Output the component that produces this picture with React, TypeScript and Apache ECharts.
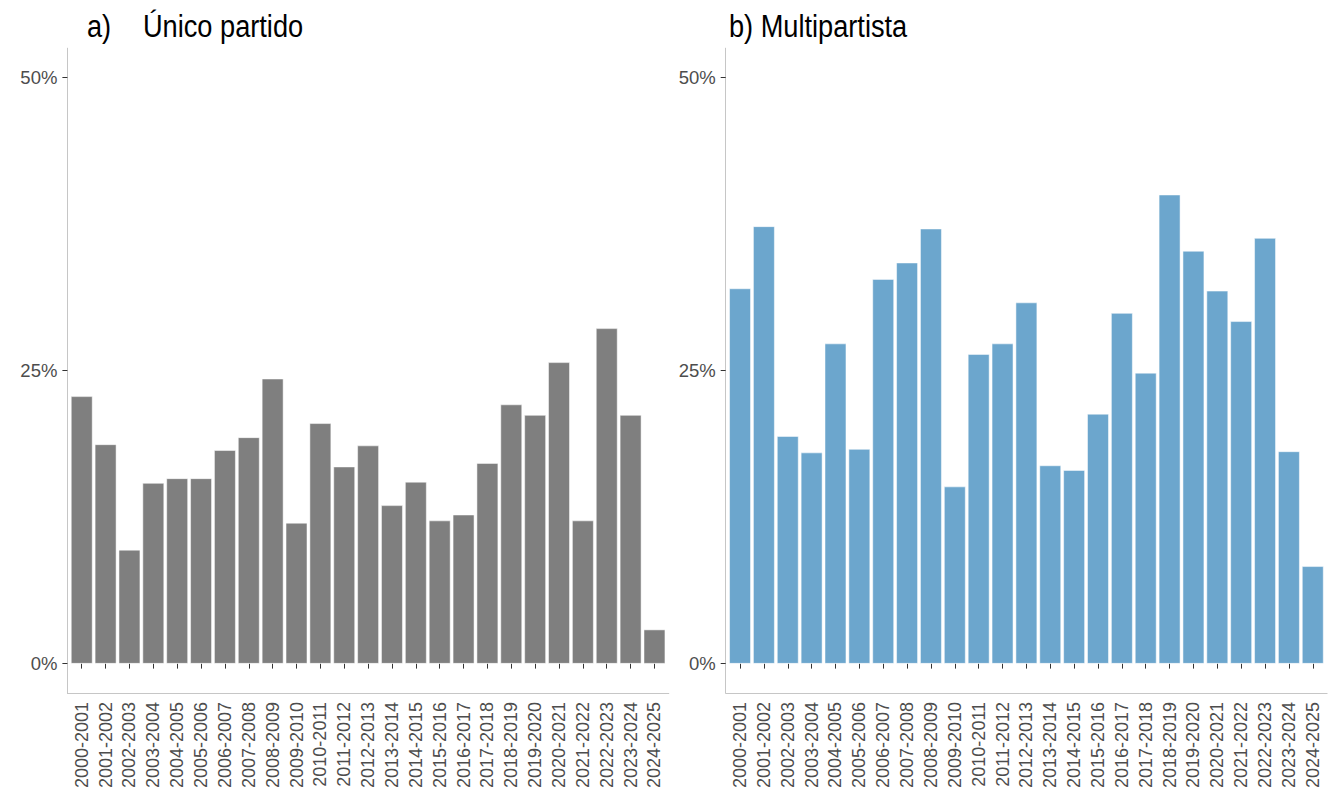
import React, { useEffect, useRef } from "react";
import * as echarts from "echarts";

const categories = [
  "2000-2001", "2001-2002", "2002-2003", "2003-2004", "2004-2005",
  "2005-2006", "2006-2007", "2007-2008", "2008-2009", "2009-2010",
  "2010-2011", "2011-2012", "2012-2013", "2013-2014", "2014-2015",
  "2015-2016", "2016-2017", "2017-2018", "2018-2019", "2019-2020",
  "2020-2021", "2021-2022", "2022-2023", "2023-2024", "2024-2025",
];

// a) Único partido (%)
const unicoPartido = [
  22.8, 18.7, 9.7, 15.4, 15.8, 15.8, 18.2, 19.3, 24.3, 12.0,
  20.5, 16.8, 18.6, 13.5, 15.5, 12.2, 12.7, 17.1, 22.1, 21.2,
  25.7, 12.2, 28.6, 21.2, 2.9,
];

// b) Multipartista (%)
const multipartista = [
  32.0, 37.3, 19.4, 18.0, 27.3, 18.3, 32.8, 34.2, 37.1, 15.1,
  26.4, 27.3, 30.8, 16.9, 16.5, 21.3, 29.9, 24.8, 40.0, 35.2,
  31.8, 29.2, 36.3, 18.1, 8.3,
];

const yTicks = [0, 25, 50];
const titleA1 = "a)";
const titleA2 = "Único partido";
const titleB = "b) Multipartista";

const AXIS_LINE = "#C6C6C6";
const TICK = "#333333";
const LABEL = "#4D4D4D";
const LABEL_FONT = "'Liberation Sans', Arial, sans-serif";
const TITLE_FONT = "'Liberation Sans', Arial, sans-serif";

export default function App() {
  const ref = useRef<HTMLDivElement>(null);

  useEffect(() => {
    if (!ref.current) return;
    const chart = echarts.init(ref.current, null, { renderer: "svg" });

    const top = 48.2;
    const height = 645.1;
    const bandW = 596.6;
    const panels = [
      { axisX: 67.4, data: unicoPartido, color: "#7F7F7F" },
      { axisX: 725.7, data: multipartista, color: "#6CA6CD" },
    ];

    const grid: any[] = [];
    const xAxis: any[] = [];
    const yAxis: any[] = [];
    const series: any[] = [];

    panels.forEach((p, i) => {
      // main grid with bars
      grid.push({ left: p.axisX + 2.4, top, width: bandW, height });
      xAxis.push({
        type: "category",
        gridIndex: 2 * i,
        data: categories,
        boundaryGap: true,
        axisLine: { show: false },
        axisTick: {
          show: true,
          alignWithLabel: true,
          length: 5,
          lineStyle: { color: TICK, width: 1 },
        },
        axisLabel: {
          interval: 0,
          rotate: 90,
          margin: 9,
          fontSize: 18,
          color: LABEL,
          fontFamily: LABEL_FONT,
        },
        splitLine: { show: false },
      });
      yAxis.push({
        type: "value",
        gridIndex: 2 * i,
        min: -2.5,
        max: 52.5,
        offset: 2.4,
        axisLine: { show: true, lineStyle: { color: AXIS_LINE, width: 1 } },
        axisTick: {
          show: true,
          length: 5,
          customValues: yTicks,
          lineStyle: { color: TICK, width: 1 },
        },
        axisLabel: {
          customValues: yTicks,
          formatter: (v: number) => `${v}%`,
          fontSize: 18.5,
          color: LABEL,
          fontFamily: LABEL_FONT,
          margin: 10,
        },
        splitLine: { show: false },
      });
      series.push({
        type: "bar",
        xAxisIndex: 2 * i,
        yAxisIndex: 2 * i,
        data: p.data,
        barCategoryGap: "10%",
        itemStyle: { color: p.color, borderColor: "#ffffff", borderWidth: 0.5 },
        silent: true,
      });

      // helper grid: x-axis line with ggplot expansion
      grid.push({ left: p.axisX, top, width: bandW + 4.8, height });
      xAxis.push({
        type: "value",
        gridIndex: 2 * i + 1,
        min: 0,
        max: 1,
        axisLine: { show: true, lineStyle: { color: AXIS_LINE, width: 1 } },
        axisTick: { show: false },
        axisLabel: { show: false },
        splitLine: { show: false },
      });
      yAxis.push({
        type: "value",
        gridIndex: 2 * i + 1,
        min: 0,
        max: 1,
        show: false,
      });
    });

    const titleText = (text: string, x: number) => ({
      type: "text",
      x,
      y: 11,
      scaleX: 0.877,
      scaleY: 1,
      silent: true,
      style: {
        text,
        fontSize: 31,
        fontFamily: TITLE_FONT,
        fill: "#000000",
        align: "left",
        verticalAlign: "top",
      },
    });

    chart.setOption({
      animation: false,
      backgroundColor: "#ffffff",
      graphic: [
        titleText(titleA1, 87),
        titleText(titleA2, 143),
        titleText(titleB, 729),
      ],
      grid,
      xAxis,
      yAxis,
      series,
    });

    return () => chart.dispose();
  }, []);

  return (
    <div
      ref={ref}
      style={{ position: "fixed", left: 0, top: 0, width: 1330, height: 791 }}
    />
  );
}
